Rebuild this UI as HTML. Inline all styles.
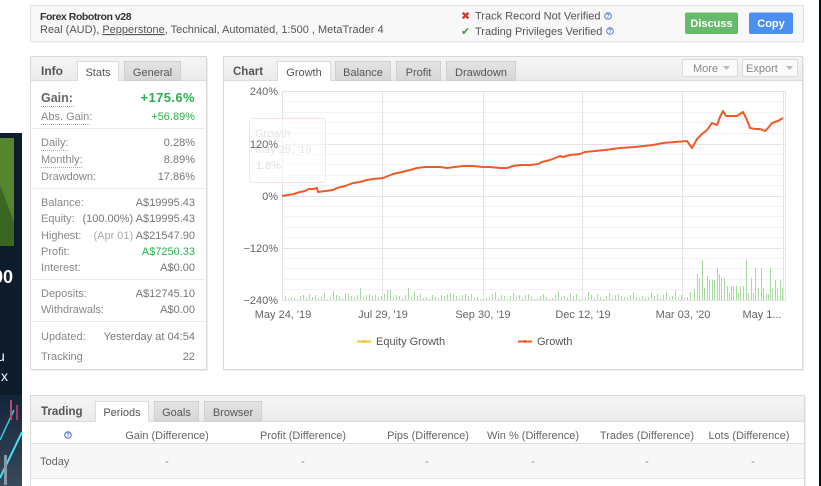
<!DOCTYPE html>
<html>
<head>
<meta charset="utf-8">
<style>
html,body{margin:0;padding:0;background:#fff;}
body{width:821px;height:486px;overflow:hidden;}
svg{display:block;}
text{font-family:"Liberation Sans",sans-serif;}
</style>
</head>
<body>
<svg width="821" height="486" viewBox="0 0 821 486" xmlns="http://www.w3.org/2000/svg">
<defs>
<linearGradient id="hdr" x1="0" y1="0" x2="0" y2="1"><stop offset="0" stop-color="#f5f5f5"/><stop offset="1" stop-color="#ebebeb"/></linearGradient>
<linearGradient id="tab" x1="0" y1="0" x2="0" y2="1"><stop offset="0" stop-color="#e4e4e4"/><stop offset="1" stop-color="#d6d6d6"/></linearGradient>
<linearGradient id="city" x1="0" y1="0" x2="0" y2="1"><stop offset="0" stop-color="#13243a"/><stop offset="1" stop-color="#3a4a5a"/></linearGradient>
</defs>
<rect width="821" height="486" fill="#fff"/>

<!-- left dark strip -->
<rect x="0" y="133" width="22" height="353" fill="#0e1b2b"/>
<rect x="0" y="138" width="14" height="108" fill="#55852f"/>
<polygon points="0,185 14,222 14,246 0,246" fill="#3b6621"/>
<text x="-7" y="283" font-size="18" font-weight="bold" fill="#fff">00</text>
<text x="-3" y="361" font-size="14" fill="#fff">u</text>
<text x="1" y="381" font-size="14" fill="#fff">x</text>
<rect x="0" y="395" width="22" height="91" fill="url(#city)"/>
<line x1="0" y1="478" x2="22" y2="432" stroke="#3fe3f2" stroke-width="2"/>
<line x1="0" y1="440" x2="14" y2="410" stroke="#35c8e0" stroke-width="1.5"/>
<rect x="10" y="400" width="2" height="20" fill="#b05070"/>
<rect x="16" y="405" width="2" height="15" fill="#a04060"/>
<rect x="4" y="455" width="3" height="30" fill="#8899aa"/>

<!-- right dark strip -->
<rect x="819" y="0" width="2" height="486" fill="#0b0f16"/>

<!-- header box -->
<rect x="30.5" y="5.5" width="773" height="36.5" fill="#f8f8f8" stroke="#e2e2e2"/>
<text x="40" y="20" font-size="10.5" font-weight="bold" fill="#333" letter-spacing="-0.45">Forex Robotron v28</text>
<text x="40" y="33" font-size="11" fill="#555">Real (AUD), <tspan text-decoration="underline">Pepperstone</tspan>, Technical, Automated, 1:500 , MetaTrader 4</text>
<text x="461" y="19.5" font-size="11" font-weight="bold" fill="#d33a2c" style="font-family:'DejaVu Sans',sans-serif">✖</text>
<text x="475" y="19.5" font-size="11" fill="#555">Track Record Not Verified</text>
<text x="461" y="35" font-size="11" font-weight="bold" fill="#3aa53a" style="font-family:'DejaVu Sans',sans-serif">✔</text>
<text x="475" y="35" font-size="11" fill="#555">Trading Privileges Verified</text>
<circle cx="608" cy="16" r="3.3" fill="none" stroke="#5a78e0" stroke-width="1"/>
<text x="608" y="18.2" font-size="6" font-weight="bold" fill="#5a78e0" text-anchor="middle">?</text>
<circle cx="610" cy="31" r="3.3" fill="none" stroke="#5a78e0" stroke-width="1"/>
<text x="610" y="33.2" font-size="6" font-weight="bold" fill="#5a78e0" text-anchor="middle">?</text>
<rect x="685" y="12.5" width="53" height="21.5" rx="2" fill="#65bb6b"/>
<text x="711.5" y="27" font-size="11" font-weight="bold" fill="#fff" text-anchor="middle">Discuss</text>
<rect x="749" y="12.5" width="44" height="21.5" rx="2" fill="#4b8ff2"/>
<text x="771" y="27" font-size="11" font-weight="bold" fill="#fff" text-anchor="middle">Copy</text>

<!-- info panel -->
<rect x="32" y="58" width="176" height="313" fill="#eee"/>
<rect x="30.5" y="56.5" width="176" height="313" fill="#fff" stroke="#d9d9d9"/>
<rect x="31" y="57" width="175" height="23" fill="url(#hdr)"/>
<line x1="31" y1="80.5" x2="206" y2="80.5" stroke="#dcdcdc"/>
<text x="41" y="75" font-size="12" font-weight="bold" fill="#555">Info</text>
<path d="M77.5 81V61.5H118.5V81" fill="#fff" stroke="#dcdcdc"/>
<rect x="78" y="62" width="40" height="19" fill="#fff"/>
<text x="98" y="76" font-size="11" fill="#555" text-anchor="middle">Stats</text>
<rect x="124.5" y="61.5" width="56" height="19" fill="url(#tab)" stroke="#d0d0d0"/>
<text x="152.5" y="76" font-size="11" fill="#555" text-anchor="middle">General</text>

<g font-size="11" fill="#888">
<text x="41" y="102" font-size="12.5" font-weight="bold" fill="#666">Gain:</text>
<text x="195" y="102" font-size="13" font-weight="bold" fill="#2bb04a" text-anchor="end" letter-spacing="0.4">+175.6%</text>
<line x1="41" y1="106.5" x2="74" y2="106.5" stroke="#999" stroke-dasharray="1,1"/>
<text x="41" y="120">Abs. Gain:</text>
<text x="195" y="120" fill="#2bb04a" text-anchor="end">+56.89%</text>
<line x1="41" y1="124.5" x2="91" y2="124.5" stroke="#aaa" stroke-dasharray="1,1"/>
<line x1="33" y1="128.5" x2="205" y2="128.5" stroke="#e9e9e9"/>
<text x="41" y="146">Daily:</text>
<text x="195" y="146" text-anchor="end" fill="#777">0.28%</text>
<line x1="41" y1="150.5" x2="69" y2="150.5" stroke="#aaa" stroke-dasharray="1,1"/>
<text x="41" y="163">Monthly:</text>
<text x="195" y="163" text-anchor="end" fill="#777">8.89%</text>
<line x1="41" y1="167.5" x2="83" y2="167.5" stroke="#aaa" stroke-dasharray="1,1"/>
<text x="41" y="180">Drawdown:</text>
<text x="195" y="180" text-anchor="end" fill="#777">17.86%</text>
<line x1="33" y1="188.5" x2="205" y2="188.5" stroke="#e9e9e9"/>
<text x="41" y="206">Balance:</text>
<text x="195" y="206" text-anchor="end" fill="#777">A$19995.43</text>
<text x="41" y="222">Equity:</text>
<text x="195" y="222" text-anchor="end" fill="#777">(100.00%) A$19995.43</text>
<text x="41" y="239">Highest:</text>
<text x="195" y="239" text-anchor="end" fill="#777"><tspan fill="#aaa">(Apr 01)</tspan> A$21547.90</text>
<text x="41" y="255">Profit:</text>
<text x="195" y="255" text-anchor="end" fill="#2bb04a">A$7250.33</text>
<text x="41" y="271">Interest:</text>
<text x="195" y="271" text-anchor="end" fill="#777">A$0.00</text>
<line x1="33" y1="279.5" x2="205" y2="279.5" stroke="#e9e9e9"/>
<text x="41" y="297">Deposits:</text>
<text x="195" y="297" text-anchor="end" fill="#777">A$12745.10</text>
<text x="41" y="313">Withdrawals:</text>
<text x="195" y="313" text-anchor="end" fill="#777">A$0.00</text>
<line x1="33" y1="321.5" x2="205" y2="321.5" stroke="#e9e9e9"/>
<text x="41" y="340">Updated:</text>
<text x="195" y="340" text-anchor="end" fill="#777">Yesterday at 04:54</text>
<text x="41" y="360">Tracking</text>
<text x="195" y="360" text-anchor="end" fill="#777">22</text>
</g>

<!-- chart panel -->
<rect x="225" y="58" width="579" height="313" fill="#eee"/>
<rect x="223.5" y="56.5" width="579" height="313" fill="#fff" stroke="#d9d9d9"/>
<rect x="224" y="57" width="578" height="23" fill="url(#hdr)"/>
<line x1="224" y1="80.5" x2="802" y2="80.5" stroke="#dcdcdc"/>
<text x="233" y="75" font-size="11.5" font-weight="bold" fill="#555">Chart</text>
<path d="M277.5 81V61.5H330.5V81" fill="#fff" stroke="#dcdcdc"/>
<rect x="278" y="62" width="52" height="19" fill="#fff"/>
<text x="304" y="76" font-size="11" fill="#555" text-anchor="middle">Growth</text>
<rect x="335.5" y="61.5" width="55" height="19" fill="url(#tab)" stroke="#d0d0d0"/>
<text x="363" y="76" font-size="11" fill="#555" text-anchor="middle">Balance</text>
<rect x="396.5" y="61.5" width="44" height="19" fill="url(#tab)" stroke="#d0d0d0"/>
<text x="418.5" y="76" font-size="11" fill="#555" text-anchor="middle">Profit</text>
<rect x="446.5" y="61.5" width="69" height="19" fill="url(#tab)" stroke="#d0d0d0"/>
<text x="481" y="76" font-size="11" fill="#555" text-anchor="middle">Drawdown</text>
<rect x="682.5" y="59.5" width="55" height="17" fill="#fafafa" stroke="#dcdcdc"/>
<text x="693" y="72" font-size="11" fill="#888">More</text>
<path d="M723 66h7l-3.5 4z" fill="#bbb"/>
<rect x="742.5" y="59.5" width="55" height="17" fill="#fafafa" stroke="#dcdcdc"/>
<text x="746" y="72" font-size="11" fill="#888">Export</text>
<path d="M786 66h7l-3.5 4z" fill="#bbb"/>

<!-- grid -->
<g stroke="#f2f2f2" stroke-width="1">
<line x1="282" y1="101.5" x2="785" y2="101.5"/><line x1="282" y1="112.5" x2="785" y2="112.5"/><line x1="282" y1="122.5" x2="785" y2="122.5"/><line x1="282" y1="133.5" x2="785" y2="133.5"/>
<line x1="282" y1="154.5" x2="785" y2="154.5"/><line x1="282" y1="164.5" x2="785" y2="164.5"/><line x1="282" y1="175.5" x2="785" y2="175.5"/><line x1="282" y1="185.5" x2="785" y2="185.5"/>
<line x1="282" y1="206.5" x2="785" y2="206.5"/><line x1="282" y1="216.5" x2="785" y2="216.5"/><line x1="282" y1="227.5" x2="785" y2="227.5"/><line x1="282" y1="237.5" x2="785" y2="237.5"/>
<line x1="282" y1="258.5" x2="785" y2="258.5"/><line x1="282" y1="268.5" x2="785" y2="268.5"/><line x1="282" y1="279.5" x2="785" y2="279.5"/><line x1="282" y1="289.5" x2="785" y2="289.5"/>
</g>
<g stroke="#e4e4e4" stroke-width="1">
<line x1="282" y1="91.5" x2="785" y2="91.5"/>
<line x1="282" y1="144.5" x2="785" y2="144.5"/>
<line x1="282" y1="196.5" x2="785" y2="196.5"/>
<line x1="282" y1="248.5" x2="785" y2="248.5"/>
<line x1="282" y1="300.5" x2="785" y2="300.5"/>
<line x1="282.5" y1="91" x2="282.5" y2="301"/>
<line x1="382.5" y1="91" x2="382.5" y2="301"/>
<line x1="483.5" y1="91" x2="483.5" y2="301"/>
<line x1="582.5" y1="91" x2="582.5" y2="301"/>
<line x1="682.5" y1="91" x2="682.5" y2="301"/>
<line x1="783.5" y1="91" x2="783.5" y2="301"/>
<line x1="785.5" y1="91" x2="785.5" y2="301"/>
</g>

<!-- ghost tooltip -->
<rect x="249.5" y="118.5" width="76" height="64" rx="3" fill="#fff" fill-opacity="0.5" stroke="#fbe2df"/>
<text x="255" y="137" font-size="11" fill="#e4e4e4">Growth</text>
<text x="255" y="153" font-size="11" fill="#e4e4e4">May 29, '19</text>
<text x="256" y="169" font-size="11" fill="#dedede">1.8%</text>

<!-- y labels -->
<g font-size="11" fill="#666" text-anchor="end">
<text x="278" y="95">240%</text>
<text x="278" y="148">120%</text>
<text x="278" y="200">0%</text>
<text x="278" y="252">−120%</text>
<text x="278" y="304">−240%</text>
</g>
<!-- x labels -->
<g font-size="11" fill="#666" text-anchor="middle">
<text x="283" y="318">May 24, '19</text>
<text x="383" y="318">Jul 29, '19</text>
<text x="483" y="318">Sep 30, '19</text>
<text x="583" y="318">Dec 12, '19</text>
<text x="683" y="318">Mar 03, '20</text>
<text x="762" y="318">May 1...</text>
</g>

<!-- bars -->
<path fill="none" stroke="#a8dba2" stroke-width="1" d="M285.5 300v-4M288.5 300v-1M291.5 300v-3M294.5 300v-2M297.5 300v-1M300.5 300v-4M303.5 300v-5M306.5 300v-2M309.5 300v-6M312.5 300v-3M315.5 300v-5M318.5 300v-2M321.5 300v-3M324.5 300v-7M327.5 300v-1M330.5 300v-3M333.5 300v-9M336.5 300v-5M339.5 300v-4M342.5 300v-2M345.5 300v-6M348.5 300v-6M351.5 300v-4M354.5 300v-3M357.5 300v-5M360.5 300v-12M363.5 300v-3M366.5 300v-5M369.5 300v-6M372.5 300v-4M375.5 300v-5M378.5 300v-3M381.5 300v-4M384.5 300v-6M387.5 300v-10M390.5 300v-10M393.5 300v-3M396.5 300v-5M399.5 300v-4M402.5 300v-2M405.5 300v-5M408.5 300v-12M411.5 300v-3M414.5 300v-9M417.5 300v-4M420.5 300v-6M423.5 300v-2M426.5 300v-3M429.5 300v-1M432.5 300v-5M435.5 300v-3M438.5 300v-2M441.5 300v-5M444.5 300v-4M447.5 300v-6M450.5 300v-7M453.5 300v-6M456.5 300v-4M459.5 300v-2M462.5 300v-5M465.5 300v-6M468.5 300v-4M471.5 300v-6M474.5 300v-2M477.5 300v-3M480.5 300v-1M483.5 300v-1M486.5 300v-2M489.5 300v-3M492.5 300v-6M495.5 300v-8M498.5 300v-2M501.5 300v-5M504.5 300v-4M507.5 300v-1M510.5 300v-4M513.5 300v-7M516.5 300v-3M519.5 300v-5M522.5 300v-2M525.5 300v-5M528.5 300v-6M531.5 300v-3M534.5 300v-1M537.5 300v-2M540.5 300v-4M543.5 300v-6M546.5 300v-3M549.5 300v-1M552.5 300v-2M555.5 300v-5M558.5 300v-9M561.5 300v-3M564.5 300v-4M567.5 300v-2M570.5 300v-7M573.5 300v-4M576.5 300v-6M579.5 300v-1M582.5 300v-2M585.5 300v-3M588.5 300v-8M591.5 300v-5M594.5 300v-2M597.5 300v-6M600.5 300v-3M603.5 300v-1M606.5 300v-4M609.5 300v-7M612.5 300v-2M615.5 300v-5M618.5 300v-6M621.5 300v-4M624.5 300v-3M627.5 300v-2M630.5 300v-5M633.5 300v-8M636.5 300v-3M639.5 300v-2M642.5 300v-4M645.5 300v-2M648.5 300v-3M651.5 300v-7M654.5 300v-4M657.5 300v-6M660.5 300v-2M663.5 300v-5M666.5 300v-8M669.5 300v-3M672.5 300v-4M675.5 300v-10M678.5 300v-3M681.5 300v-5M684.5 300v-2M687.5 300v-3M690.5 300v-8M694.5 300v-11M697.5 300v-26M699.5 300v-22M702.5 300v-40M704.5 300v-12M707.5 300v-24M709.5 300v-20M712.5 300v-20M714.5 300v-20M717.5 300v-32M719.5 300v-26M721.5 300v-22M724.5 300v-22M727.5 300v-14M729.5 300v-7M731.5 300v-14M733.5 300v-14M736.5 300v-14M738.5 300v-7M740.5 300v-14M743.5 300v-14M746.5 300v-40M748.5 300v-7M751.5 300v-22M753.5 300v-7M755.5 300v-32M758.5 300v-12M761.5 300v-32M763.5 300v-12M766.5 300v-6M768.5 300v-6M770.5 300v-32M772.5 300v-12M775.5 300v-20M777.5 300v-12M780.5 300v-20M782.5 300v-12"/>

<!-- growth line -->
<polyline fill="none" stroke="#f05a28" stroke-width="2" stroke-linejoin="round" points="282,196 288,195 294,194 300,192 305,191 309,189 313,189 317,188 318,192 325,191 333,190 337,188 345,186 353,183 360,182 367,180 373,179 383,178 388,176 393,174 402,172 410,170 417,168 425,167 433,167 440,167 447,168 455,167 463,166 473,166 483,167 490,167 500,168 507,168 513,166 520,165 530,165 538,164 542,162 550,160 560,156 563,157 570,155 580,154 585,152 595,151 605,150 620,148 635,147 653,145 663,143 675,142 687,141 692,148 697,139 702,134 707,130 712,123 717,125 720,117 723,111 726,116 732,116 737,116 743,112 747,120 750,128 755,129 760,129 765,131 768,128 772,123 778,121 783,118"/>

<!-- legend -->
<line x1="357" y1="341.5" x2="371" y2="341.5" stroke="#f7c325" stroke-width="2"/>
<circle cx="364" cy="341.5" r="1.5" fill="#f7c325"/>
<text x="376" y="345" font-size="11" fill="#555">Equity Growth</text>
<line x1="518" y1="341.5" x2="532" y2="341.5" stroke="#f05a28" stroke-width="2"/>
<circle cx="525" cy="341.5" r="1.5" fill="#f05a28"/>
<text x="537" y="345" font-size="11" fill="#555">Growth</text>

<!-- trading panel -->
<rect x="32" y="397" width="774" height="100" fill="#eee"/>
<rect x="30.5" y="395.5" width="774" height="100" fill="#fff" stroke="#d9d9d9"/>
<rect x="31" y="396" width="773" height="25" fill="url(#hdr)"/>
<line x1="31" y1="421.5" x2="804" y2="421.5" stroke="#dcdcdc"/>
<text x="41" y="415" font-size="11.5" font-weight="bold" fill="#555">Trading</text>
<path d="M95.5 422V401.5H148.5V422" fill="#fff" stroke="#dcdcdc"/>
<rect x="96" y="402" width="52" height="20" fill="#fff"/>
<text x="122" y="416" font-size="11" fill="#555" text-anchor="middle">Periods</text>
<rect x="154.5" y="401.5" width="44" height="20" fill="url(#tab)" stroke="#d0d0d0"/>
<text x="176.5" y="416" font-size="11" fill="#555" text-anchor="middle">Goals</text>
<rect x="204.5" y="401.5" width="57" height="20" fill="url(#tab)" stroke="#d0d0d0"/>
<text x="233" y="416" font-size="11" fill="#555" text-anchor="middle">Browser</text>

<circle cx="68" cy="435" r="3.3" fill="none" stroke="#4a6be0" stroke-width="1"/>
<text x="68" y="437.2" font-size="6" font-weight="bold" fill="#4a6be0" text-anchor="middle">?</text>
<g font-size="11" fill="#666" text-anchor="middle">
<text x="167" y="439">Gain (Difference)</text>
<text x="303" y="439">Profit (Difference)</text>
<text x="428" y="439">Pips (Difference)</text>
<text x="533" y="439">Win % (Difference)</text>
<text x="647" y="439">Trades (Difference)</text>
<text x="749" y="439">Lots (Difference)</text>
</g>
<line x1="31" y1="443.5" x2="804" y2="443.5" stroke="#dedede"/>
<rect x="31" y="444" width="773" height="34" fill="#f7f7f7"/>
<line x1="31" y1="478.5" x2="804" y2="478.5" stroke="#e6e6e6"/>
<text x="40" y="465" font-size="11" fill="#666">Today</text>
<g font-size="11" fill="#888" text-anchor="middle">
<text x="167" y="465">-</text>
<text x="303" y="465">-</text>
<text x="427" y="465">-</text>
<text x="533" y="465">-</text>
<text x="647" y="465">-</text>
<text x="753" y="465">-</text>
</g>
</svg>
</body>
</html>
